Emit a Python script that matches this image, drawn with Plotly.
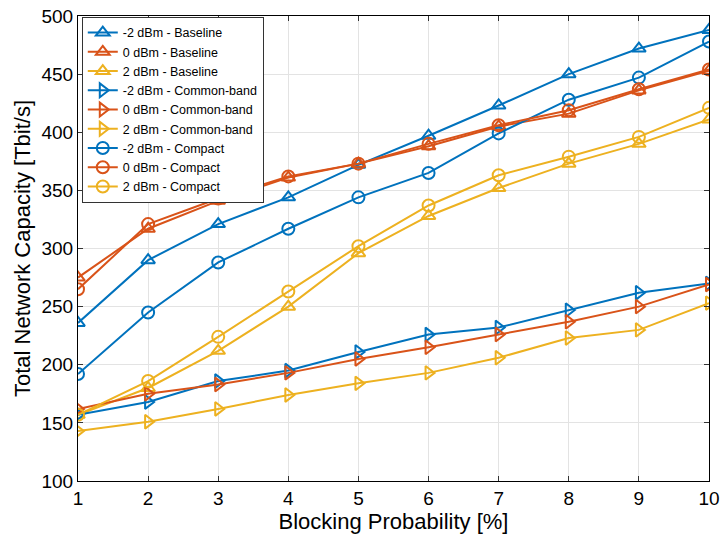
import plotly.graph_objects as go

x = [1, 2, 3, 4, 5, 6, 7, 8, 9, 10]

base_m2 = [236, 290, 321, 344, 372, 397, 423, 450, 472, 488]
base_0 = [275, 317, 341, 361, 373, 388, 405, 416, 436, 453]
base_p2 = [157, 180, 212, 250, 296, 328, 352, 373, 390, 411]
cb_m2 = [157, 168, 186, 195, 211, 226, 232, 247, 262, 270]
cb_0 = [162, 175, 183, 193, 205, 215, 226, 237, 250, 269]
cb_p2 = [143, 151, 162, 174, 184, 193, 206, 223, 230, 253]
comp_m2 = [192, 245, 288, 317, 344, 365, 399, 428, 447, 478]
comp_0 = [265, 321, 343, 362, 373, 390, 406, 419, 437, 454]
comp_p2 = [157, 186, 224, 263, 302, 337, 363, 379, 396, 421]

names = ["-2 dBm - Baseline", "0 dBm - Baseline", "2 dBm - Baseline",
         "-2 dBm - Common-band", "0 dBm - Common-band", "2 dBm - Common-band",
         "-2 dBm - Compact", "0 dBm - Compact", "2 dBm - Compact"]
series = [base_m2, base_0, base_p2, cb_m2, cb_0, cb_p2, comp_m2, comp_0, comp_p2]
colors = ["#0072BD", "#D95319", "#EDB120"] * 3
symbols = ["triangle-up-open"] * 3 + ["triangle-right-open"] * 3 + ["circle-open"] * 3

fig = go.Figure()
for n, s, c, m in zip(names, series, colors, symbols):
    fig.add_trace(go.Scatter(
        x=x, y=s, name=n, mode="lines+markers",
        line=dict(color=c, width=2),
        marker=dict(symbol=m, size=12, color=c, line=dict(width=2, color=c)),
    ))

axis_common = dict(
    showline=True, linecolor="black", linewidth=1, mirror="ticks",
    ticks="inside", ticklen=5, tickcolor="#333",
    showgrid=True, gridcolor="#E3E3E3", gridwidth=1,
    zeroline=False, tickfont=dict(size=19, color="black"),
    automargin=False, ticklabeloverflow="allow",
)

fig.update_layout(
    width=721, height=542,
    margin=dict(l=78, r=12, t=16, b=61),
    plot_bgcolor="white", paper_bgcolor="white",
    font=dict(family="Liberation Sans, Arial, sans-serif", color="black"),
    xaxis=dict(range=[1, 10], dtick=1,
               title=dict(text="Blocking Probability [%]", font=dict(size=22), standoff=4),
               **axis_common),
    yaxis=dict(range=[100, 500], dtick=50,
               title=dict(text="Total Network Capacity [Tbit/s]", font=dict(size=22), standoff=4),
               **axis_common),
    legend=dict(x=0.006, y=0.998, xanchor="left", yanchor="top",
                bgcolor="white", bordercolor="#333", borderwidth=1,
                font=dict(size=12.5), tracegroupgap=0, itemwidth=30,
                ),
    showlegend=True,
)

fig.write_html("out.html", config={"displayModeBar": False},
               post_script="document.body.style.margin='0';")
